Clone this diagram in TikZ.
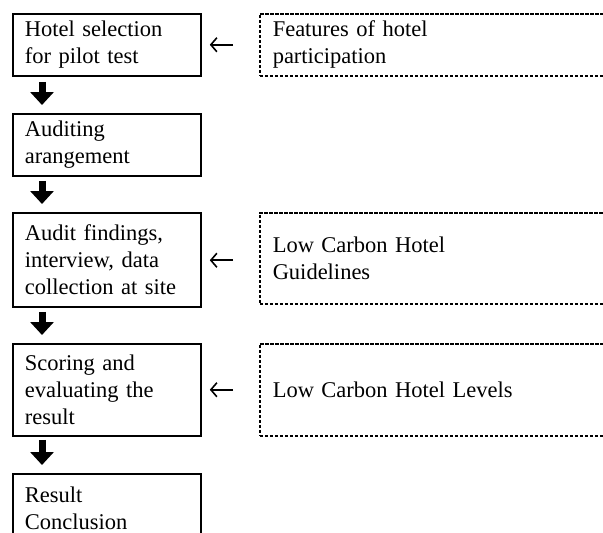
\documentclass[tikz,border=0pt]{standalone}
\usepackage{fontspec}
\setmainfont{Liberation Serif}
\usetikzlibrary{arrows.meta,calc}
\tikzset{
  stepbox/.style={draw, line width=1.8pt, rectangle, anchor=north west,
    text width=164pt, align=left, inner xsep=12pt, inner ysep=0pt,
    font=\fontsize{22.5}{27}\selectfont},
  inputbox/.style={draw, line width=1.5pt, dash pattern=on 3.5pt off 1.5pt,
    rectangle, anchor=north west, text width=325pt, align=left,
    inner xsep=13pt, inner ysep=0pt, font=\fontsize{22.5}{27}\selectfont},
  downarr/.style={line width=7pt, -{Triangle[width=23pt,length=13pt]}},
  leftarr/.style={line width=1.6pt, -{Straight Barb[length=6pt,width=14pt]},
    shorten >=8pt, shorten <=26pt},
}
\begin{document}
\begin{tikzpicture}
\useasboundingbox (0,0) rectangle (603pt,-533pt);
% main boxes
\node[stepbox, minimum height=62pt] (b1) at (12pt,-13pt) {Hotel selection\\for pilot test};
\node[stepbox, minimum height=62pt] (b2) at (12pt,-113pt) {Auditing\\arangement};
\node[stepbox, minimum height=94pt] (b3) at (12pt,-212pt) {Audit findings,\\interview, data\\collection at site};
\node[stepbox, minimum height=92pt] (b4) at (12pt,-343pt) {Scoring and\\evaluating the\\result};
\node[stepbox, minimum height=68pt] (b5) at (12pt,-473pt) {Result\\Conclusion};
% input boxes
\node[inputbox, minimum height=62pt] (d1) at (259pt,-13pt) {Features of hotel\\participation};
\node[inputbox, minimum height=91pt] (d2) at (259pt,-212pt) {Low Carbon Hotel\\Guidelines};
\node[inputbox, minimum height=92pt] (d3) at (259pt,-343pt) {Low Carbon Hotel Levels};
% down arrows
\draw[downarr] ($(b1.south west)+(30pt,-5pt)$) -- ($(b2.north west)+(30pt,8pt)$);
\draw[downarr] ($(b2.south west)+(30pt,-4pt)$) -- ($(b3.north west)+(30pt,8pt)$);
\draw[downarr] ($(b3.south west)+(30pt,-4pt)$) -- ($(b4.north west)+(30pt,8pt)$);
\draw[downarr] ($(b4.south west)+(30pt,-3pt)$) -- ($(b5.north west)+(30pt,8pt)$);
% left arrows
\draw[leftarr] (d1.west) -- (b1.east |- d1.west);
\draw[leftarr] ($(d2.west)+(0,-2pt)$) -- (b3.east |- {$(d2.west)+(0,-2pt)$});
\draw[leftarr] (d3.west) -- (b4.east |- d3.west);
\end{tikzpicture}
\end{document}
